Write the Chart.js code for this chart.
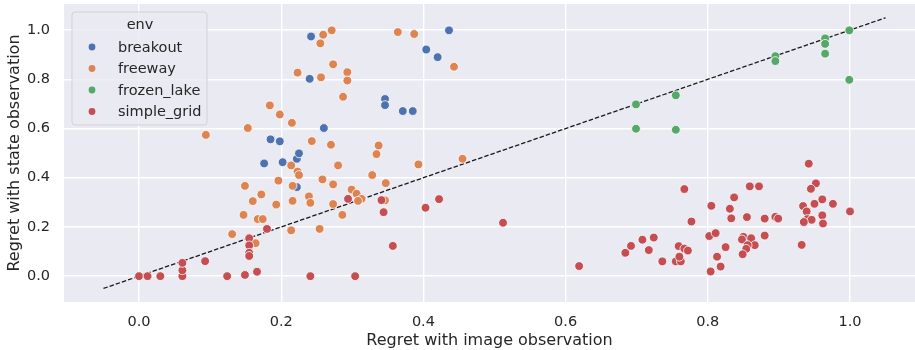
<!DOCTYPE html>
<html>
<head>
<meta charset="utf-8">
<script src="https://cdn.jsdelivr.net/npm/chart.js@4.4.0/dist/chart.umd.min.js"></script>
<style>
body { margin: 0; background: #fff; }
</style>
</head>
<body>
<canvas id="chart" width="915" height="350"></canvas>
<script>
var legendTitle = 'env';
var envNames = ['breakout', 'freeway', 'frozen_lake', 'simple_grid'];
var envColors = ['#4c72b0', '#dd8452', '#55a868', '#c44e52'];

var xTicks = [0.0, 0.2, 0.4, 0.6, 0.8, 1.0];
var yTicks = [0.0, 0.2, 0.4, 0.6, 0.8, 1.0];

// reference diagonal
var diagX = [-0.05, 1.05];
var diagY = [-0.05, 1.05];

var breakoutX = [0.176, 0.185, 0.198, 0.202, 0.222, 0.225, 0.222, 0.242, 0.240, 0.260, 0.346, 0.346, 0.371, 0.385, 0.404, 0.420, 0.436];
var breakoutY = [0.458, 0.556, 0.548, 0.463, 0.477, 0.499, 0.362, 0.974, 0.802, 0.602, 0.720, 0.695, 0.671, 0.671, 0.921, 0.890, 0.999];

var freewayX = [0.094, 0.153, 0.184, 0.198, 0.215, 0.223, 0.214, 0.223, 0.225, 0.149, 0.196, 0.216, 0.172, 0.160, 0.193, 0.216, 0.147, 0.167,
    0.174, 0.214, 0.131, 0.164, 0.259, 0.271, 0.255, 0.364, 0.387, 0.443, 0.273, 0.256, 0.293, 0.293, 0.287, 0.243, 0.270, 0.337,
    0.334, 0.280, 0.393, 0.455, 0.258, 0.328, 0.273, 0.347, 0.299, 0.306, 0.239, 0.241, 0.313, 0.308, 0.346, 0.273, 0.286, 0.254];
var freewayY = [0.574, 0.602, 0.694, 0.657, 0.623, 0.827, 0.450, 0.425, 0.411, 0.367, 0.388, 0.367, 0.332, 0.305, 0.291, 0.306, 0.249, 0.232,
    0.232, 0.186, 0.171, 0.134, 0.981, 0.999, 0.946, 0.992, 0.984, 0.851, 0.861, 0.808, 0.829, 0.795, 0.729, 0.549, 0.534, 0.531,
    0.496, 0.450, 0.454, 0.477, 0.393, 0.411, 0.373, 0.378, 0.352, 0.335, 0.324, 0.298, 0.314, 0.306, 0.308, 0.293, 0.249, 0.192];

var frozenX = [0.699, 0.699, 0.755, 0.755, 0.895, 0.895, 0.965, 0.965, 0.965, 0.999, 0.999];
var frozenY = [0.698, 0.599, 0.735, 0.595, 0.894, 0.874, 0.966, 0.944, 0.904, 0.999, 0.798];

var gridX = [0.000, 0.012, 0.030, 0.061, 0.061, 0.061, 0.093, 0.124, 0.149, 0.166, 0.155, 0.155, 0.155, 0.155, 0.180, 0.294, 0.341,
    0.344, 0.357, 0.403, 0.422, 0.512, 0.241, 0.304,
    0.619, 0.684, 0.692, 0.708, 0.724, 0.717, 0.736, 0.755, 0.762, 0.760, 0.759, 0.767, 0.772, 0.767, 0.777, 0.804, 0.818, 0.813,
    0.825, 0.802, 0.811, 0.805, 0.831, 0.833, 0.837, 0.855, 0.859, 0.872, 0.850, 0.848, 0.861, 0.866, 0.856, 0.854, 0.849,
    0.942, 0.952, 0.945, 0.961, 0.976, 0.950, 0.934, 0.939, 1.000, 0.880, 0.895, 0.899, 0.961, 0.940, 0.946, 0.935, 0.962, 0.880, 0.932];
var gridY = [0.000, 0.000, 0.000, 0.000, 0.024, 0.054, 0.061, 0.000, 0.005, 0.018, 0.154, 0.125, 0.095, 0.082, 0.192, 0.314, 0.309,
    0.260, 0.123, 0.278, 0.313, 0.217, 0.000, 0.000,
    0.041, 0.095, 0.123, 0.148, 0.157, 0.106, 0.060, 0.060, 0.060, 0.079, 0.122, 0.112, 0.104, 0.354, 0.222, 0.019, 0.039, 0.079,
    0.118, 0.163, 0.175, 0.286, 0.274, 0.235, 0.320, 0.240, 0.365, 0.365, 0.160, 0.149, 0.154, 0.126, 0.126, 0.111, 0.089,
    0.457, 0.377, 0.355, 0.312, 0.294, 0.294, 0.285, 0.263, 0.263, 0.234, 0.241, 0.234, 0.247, 0.232, 0.229, 0.220, 0.214, 0.165, 0.127];

function toPoints(xs, ys) {
    return xs.map(function(x, i) { return {x: x, y: ys[i]}; });
}

var seriesX = [breakoutX, freewayX, frozenX, gridX];
var seriesY = [breakoutY, freewayY, frozenY, gridY];

var datasets = envNames.map(function(name, i) {
    return {
        type: 'scatter',
        label: name,
        data: toPoints(seriesX[i], seriesY[i]),
        backgroundColor: envColors[i],
        borderColor: '#ffffff',
        borderWidth: 0.8,
        pointRadius: 4.4,
        order: 4 - i
    };
});

datasets.push({
    type: 'line',
    label: 'diag',
    data: toPoints(diagX, diagY),
    borderColor: '#1a1a1a',
    borderWidth: 1.3,
    borderDash: [4.5, 2],
    pointRadius: 0,
    fill: false,
    order: 10
});

const plotBg = {
    id: 'plotBg',
    beforeDraw(chart) {
        const ctx = chart.ctx;
        const a = chart.chartArea;
        ctx.save();
        ctx.fillStyle = '#eaeaf2';
        ctx.fillRect(a.left, a.top, a.right - a.left, a.bottom - a.top);
        ctx.restore();
    }
};

// seaborn style legend box inside the axes
const envLegend = {
    id: 'envLegend',
    afterDraw(chart) {
        const ctx = chart.ctx;
        const x0 = 72, y0 = 12, w = 135, h = 113, r = 3;
        ctx.save();
        ctx.beginPath();
        ctx.moveTo(x0 + r, y0);
        ctx.arcTo(x0 + w, y0, x0 + w, y0 + h, r);
        ctx.arcTo(x0 + w, y0 + h, x0, y0 + h, r);
        ctx.arcTo(x0, y0 + h, x0, y0, r);
        ctx.arcTo(x0, y0, x0 + w, y0, r);
        ctx.closePath();
        ctx.fillStyle = 'rgba(234,234,242,0.8)';
        ctx.fill();
        ctx.strokeStyle = 'rgba(204,204,204,0.8)';
        ctx.lineWidth = 1;
        ctx.stroke();

        ctx.fillStyle = '#262626';
        ctx.font = '14.5px "DejaVu Sans"';
        ctx.textBaseline = 'middle';
        ctx.textAlign = 'center';
        ctx.fillText(legendTitle, 140, 25);
        ctx.textAlign = 'left';
        for (let i = 0; i < envNames.length; i++) {
            const y = 47 + i * 21.5;
            ctx.beginPath();
            ctx.arc(92, y, 3.4, 0, Math.PI * 2);
            ctx.fillStyle = envColors[i];
            ctx.fill();
            ctx.fillStyle = '#262626';
            ctx.fillText(envNames[i], 118, y + 1);
        }
        ctx.restore();
    }
};

// drop the label overhang padding so the plot box is where we put it
function noPad(scale) {
    scale.paddingTop = 0;
    scale.paddingBottom = 0;
    scale.paddingLeft = 0;
    scale.paddingRight = 0;
}

const tickFont = {family: 'DejaVu Sans', size: 14.5};
const titleFont = {family: 'DejaVu Sans', size: 16};

const config = {
    data: {datasets: datasets},
    options: {
        responsive: false,
        animation: false,
        layout: {autoPadding: false, padding: {top: 4, right: 0, bottom: 0, left: 0}},
        plugins: {
            legend: {display: false},
            tooltip: {enabled: false}
        },
        scales: {
            x: {
                type: 'linear',
                min: -0.1055,
                max: 1.0914,
                afterBuildTicks: function(scale) {
                    scale.ticks = xTicks.map(function(v) { return {value: v}; });
                },
                afterFit: function(scale) { scale.height = 48; noPad(scale); },
                ticks: {
                    font: tickFont,
                    color: '#262626',
                    padding: 12,
                    callback: function(v) { return v.toFixed(1); }
                },
                grid: {color: '#ffffff', lineWidth: 1.4, drawTicks: false},
                border: {display: false},
                title: {
                    display: true,
                    text: 'Regret with image observation',
                    font: titleFont,
                    color: '#262626',
                    padding: {top: 0, bottom: 0}
                }
            },
            y: {
                type: 'linear',
                min: -0.105,
                max: 1.106,
                afterBuildTicks: function(scale) {
                    scale.ticks = yTicks.map(function(v) { return {value: v}; });
                },
                afterFit: function(scale) { scale.width = 64; noPad(scale); },
                ticks: {
                    font: tickFont,
                    color: '#262626',
                    padding: 14,
                    callback: function(v) { return v.toFixed(1); }
                },
                grid: {color: '#ffffff', lineWidth: 1.4, drawTicks: false},
                border: {display: false},
                title: {
                    display: true,
                    text: 'Regret with state observation',
                    font: titleFont,
                    color: '#262626',
                    padding: {top: 5, bottom: 0}
                }
            }
        }
    },
    plugins: [plotBg, envLegend]
};

const myChart = new Chart(document.getElementById('chart'), config);
</script>
</body>
</html>
